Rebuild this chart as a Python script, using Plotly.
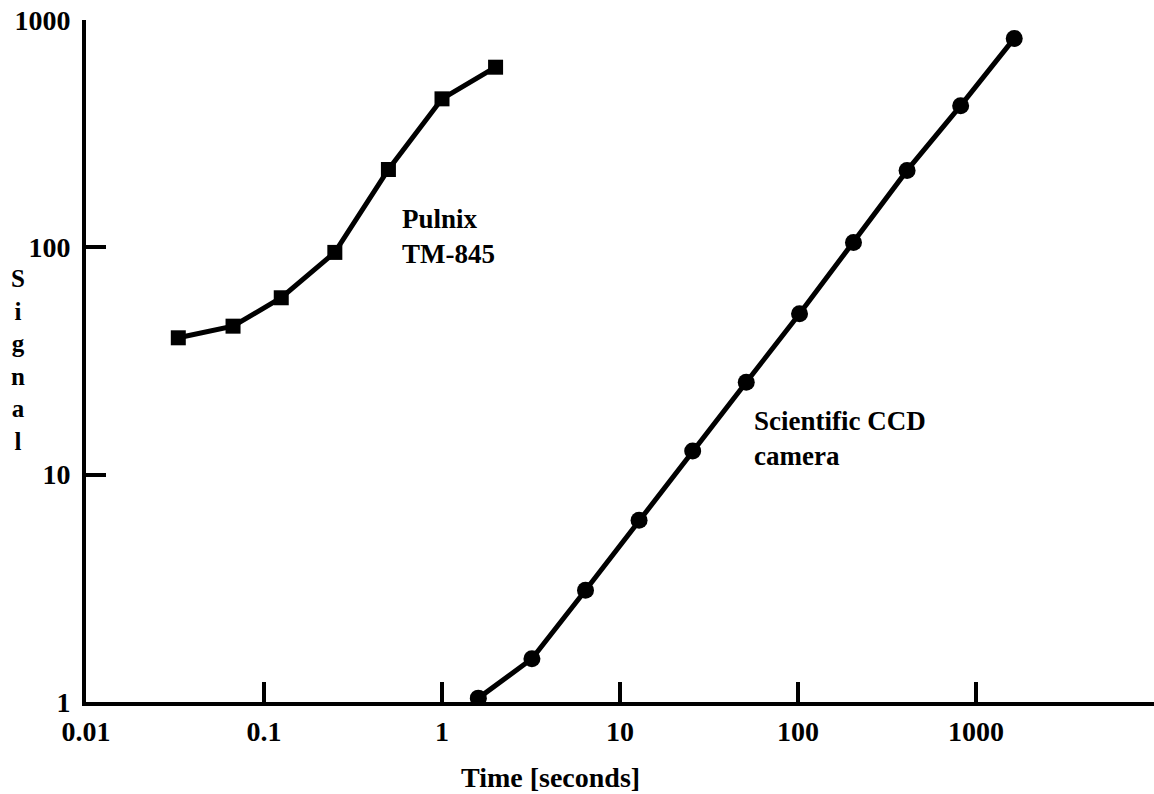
import plotly.graph_objects as go

# Data
pulnix_time = [0.033, 0.067, 0.125, 0.25, 0.5, 1.0, 2.0]
pulnix_signal = [40, 45, 60, 95, 220, 450, 620]

ccd_time = [1.6, 3.2, 6.4, 12.8, 25.6, 51.2, 102, 205, 410, 820, 1640]
ccd_signal = [1.04, 1.55, 3.1, 6.3, 12.7, 25.5, 51, 105, 218, 420, 830]

x_tickvals = [0.01, 0.1, 1, 10, 100, 1000]
x_ticktext = ["0.01", "0.1", "1", "10", "100", "1000"]
y_tickvals = [1, 10, 100, 1000]
y_ticktext = ["1", "10", "100", "1000"]

FONT = "Liberation Serif"

fig = go.Figure()
fig.add_trace(go.Scatter(
    x=pulnix_time, y=pulnix_signal, mode="lines+markers",
    line=dict(color="black", width=5),
    marker=dict(symbol="square", size=15, color="black"),
    showlegend=False,
))
fig.add_trace(go.Scatter(
    x=ccd_time, y=ccd_signal, mode="lines+markers",
    line=dict(color="black", width=5),
    marker=dict(symbol="circle", size=17, color="black"),
    showlegend=False,
))

tick_font = dict(family=FONT, size=28, color="black", weight="bold")
fig.update_xaxes(
    type="log", range=[-2, 4],
    tickvals=x_tickvals, ticktext=x_ticktext,
    ticks="inside", ticklen=20, tickwidth=4, tickcolor="black",
    showline=True, linecolor="black", linewidth=4,
    showgrid=False, zeroline=False,
    tickfont=tick_font,
    ticklabelstandoff=1,
)
fig.update_yaxes(
    type="log", range=[0, 3],
    tickvals=y_tickvals, ticktext=y_ticktext,
    ticks="inside", ticklen=20, tickwidth=4, tickcolor="black",
    showline=True, linecolor="black", linewidth=4,
    showgrid=False, zeroline=False,
    tickfont=tick_font,
    ticklabelstandoff=6,
)

ann_font = dict(family=FONT, size=27, color="black", weight="bold")
fig.add_annotation(
    x=-0.236, y=2.048, xref="x", yref="y",
    text="Pulnix<br>TM-845", showarrow=False,
    xanchor="left", yanchor="middle", align="left", font=ann_font,
)
fig.add_annotation(
    x=1.742, y=1.16, xref="x", yref="y",
    text="Scientific CCD<br>camera", showarrow=False,
    xanchor="left", yanchor="middle", align="left", font=ann_font,
)
fig.add_annotation(
    x=-0.0637, y=0.501, xref="paper", yref="paper",
    text="S<br>i<br>g<br>n<br>a<br>l", showarrow=False,
    xanchor="center", yanchor="middle", align="center",
    font=dict(family=FONT, size=25, color="black", weight="bold"),
)
fig.add_annotation(
    x=0.435, y=-0.11, xref="paper", yref="paper",
    text="Time [seconds]", showarrow=False,
    xanchor="center", yanchor="middle", font=dict(family=FONT, size=28, color="black", weight="bold"),
)

fig.update_layout(
    width=1154, height=794,
    margin=dict(l=86, r=0, t=20, b=92),
    paper_bgcolor="white", plot_bgcolor="white",
)

fig.write_html("out.html")
